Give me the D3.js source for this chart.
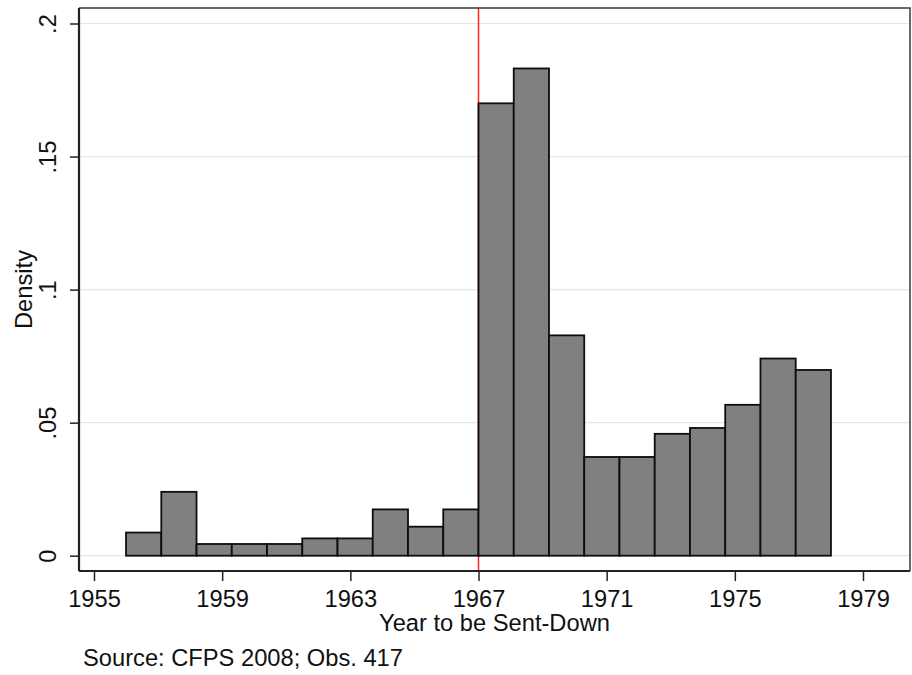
<!DOCTYPE html>
<html>
<head>
<meta charset="utf-8">
<script src="https://cdn.jsdelivr.net/npm/d3@7"></script>
<style>
  body { margin: 0; background: #fff; }
  svg { display: block; font-family: "Liberation Sans", Arial, sans-serif; }
</style>
</head>
<body>
<div id="chart"></div>
<script>
// histogram bins (year edges) and density per bin
const binStarts = [1956, 1957.1, 1958.2, 1959.3, 1960.4, 1961.5, 1962.6, 1963.7, 1964.8, 1965.9,
                   1967, 1968.1, 1969.2, 1970.3, 1971.4, 1972.5, 1973.6, 1974.7, 1975.8, 1976.9];
const binEnds = [1957.1, 1958.2, 1959.3, 1960.4, 1961.5, 1962.6, 1963.7, 1964.8, 1965.9, 1967,
                 1968.1, 1969.2, 1970.3, 1971.4, 1972.5, 1973.6, 1974.7, 1975.8, 1976.9, 1978];
const densities = [0.0087, 0.0240, 0.0044, 0.0044, 0.0044, 0.0065, 0.0065, 0.0174, 0.0109, 0.0174,
                   0.1700, 0.1831, 0.0828, 0.0371, 0.0371, 0.0458, 0.0480, 0.0567, 0.0741, 0.0698];
const xTicks = [1955, 1959, 1963, 1967, 1971, 1975, 1979];
const yTicks = [0, 0.05, 0.1, 0.15, 0.2];
const yTickLabels = ["0", ".05", ".1", ".15", ".2"];
const cutoffYear = 1967;

const width = 912, height = 675;
const frame = { left: 79, right: 910, top: 8, bottom: 571 };
const fontSize = 23.7;

const svg = d3.select("#chart").append("svg")
    .attr("width", width)
    .attr("height", height)
    .attr("viewBox", [0, 0, width, height]);

const x = d3.scaleLinear().domain([1955, 1979]).range([94, 863]);
const y = d3.scaleLinear().domain([0, 0.2]).range([555.7, 23.5]);

// gridlines
svg.append("g")
    .selectAll("line")
    .data(yTicks)
    .join("line")
    .attr("x1", frame.left)
    .attr("x2", frame.right)
    .attr("y1", d => y(d))
    .attr("y2", d => y(d))
    .attr("stroke", "#e6e6e6")
    .attr("stroke-width", 1.2);

// red reference line (behind the bars)
svg.append("line")
    .attr("x1", x(cutoffYear))
    .attr("x2", x(cutoffYear))
    .attr("y1", frame.top)
    .attr("y2", frame.bottom)
    .attr("stroke", "#ff2020")
    .attr("stroke-width", 1.5);

// bars
svg.append("g")
    .attr("fill", "#808080")
    .attr("stroke", "#0d0d0d")
    .attr("stroke-width", 1.8)
    .selectAll("rect")
    .data(densities)
    .join("rect")
    .attr("x", (d, i) => x(binStarts[i]))
    .attr("width", (d, i) => x(binEnds[i]) - x(binStarts[i]))
    .attr("y", d => y(d))
    .attr("height", d => y(0) - y(d));

// frame top + right
svg.append("path")
    .attr("d", `M${frame.left},${frame.top}H${frame.right}V${frame.bottom}`)
    .attr("fill", "none")
    .attr("stroke", "#3a3a3a")
    .attr("stroke-width", 1.5);

// x axis
const xAxis = d3.axisBottom(x)
    .tickValues(xTicks)
    .tickFormat(d3.format("d"))
    .tickSize(10)
    .tickSizeOuter(0);

svg.append("g")
    .attr("transform", `translate(0,${frame.bottom})`)
    .call(xAxis)
    .call(g => g.select(".domain").remove())
    .call(g => g.selectAll(".tick line").attr("stroke", "#222").attr("stroke-width", 1.5))
    .call(g => g.selectAll(".tick text")
        .attr("font-family", "Liberation Sans, Arial, sans-serif")
        .attr("font-size", fontSize)
        .attr("fill", "#111")
        .attr("dy", null)
        .attr("y", 36));

svg.append("line")
    .attr("x1", frame.left)
    .attr("x2", frame.right)
    .attr("y1", frame.bottom)
    .attr("y2", frame.bottom)
    .attr("stroke", "#222")
    .attr("stroke-width", 2.2);

// y axis
const yAxis = d3.axisLeft(y)
    .tickValues(yTicks)
    .tickFormat((d, i) => yTickLabels[i])
    .tickSize(9)
    .tickSizeOuter(0);

svg.append("g")
    .attr("transform", `translate(${frame.left},0)`)
    .call(yAxis)
    .call(g => g.select(".domain").remove())
    .call(g => g.selectAll(".tick line").attr("stroke", "#222").attr("stroke-width", 1.5))
    .call(g => g.selectAll(".tick text")
        .attr("font-family", "Liberation Sans, Arial, sans-serif")
        .attr("font-size", fontSize)
        .attr("fill", "#111")
        .attr("x", null)
        .attr("dy", null)
        .attr("text-anchor", "middle")
        .attr("transform", `translate(${56 - frame.left},0) rotate(-90)`));

svg.append("line")
    .attr("x1", frame.left)
    .attr("x2", frame.left)
    .attr("y1", frame.top)
    .attr("y2", frame.bottom)
    .attr("stroke", "#222")
    .attr("stroke-width", 2.2);

// axis titles
svg.append("text")
    .attr("x", (frame.left + frame.right) / 2)
    .attr("y", 631)
    .attr("text-anchor", "middle")
    .attr("font-size", fontSize)
    .attr("fill", "#111")
    .text("Year to be Sent-Down");

svg.append("text")
    .attr("transform", `translate(32,${(frame.top + frame.bottom) / 2}) rotate(-90)`)
    .attr("text-anchor", "middle")
    .attr("font-size", fontSize)
    .attr("fill", "#111")
    .text("Density");

// note
svg.append("text")
    .attr("x", 83)
    .attr("y", 666)
    .attr("font-size", fontSize)
    .attr("fill", "#111")
    .text("Source: CFPS 2008; Obs. 417");
</script>
</body>
</html>
